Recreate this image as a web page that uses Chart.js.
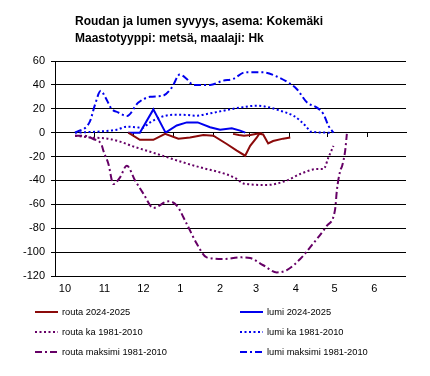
<!DOCTYPE html>
<html>
<head>
<meta charset="utf-8">
<script src="https://cdn.jsdelivr.net/npm/chart.js@4"></script>
<style>
  html, body { margin: 0; padding: 0; background: #fff; }
  #wrap { position: relative; width: 430px; height: 376px; }
  #chart { position: absolute; left: 0; top: 0; }
  .title { position: absolute; left: 75px; font: bold 12px "Liberation Sans", Arial, sans-serif; color: #000; white-space: nowrap; }
</style>
</head>
<body>
<div id="wrap">
  <canvas id="chart" width="430" height="376"></canvas>
  <div class="title" style="top:14px">Roudan ja lumen syvyys, asema: Kokemäki</div>
  <div class="title" style="top:31px">Maastotyyppi: metsä, maalaji: Hk</div>
</div>
<script>
// x = päiviä 1.10. alkaen
const monthLabels = ['10', '11', '12', '1', '2', '3', '4', '5', '6'];
const monthStartDays = [0, 31, 61, 92, 123, 151, 182, 212, 243];
const seasonEnd = 273;

const routaDays = [57, 66, 76.5, 85.6, 96, 105, 115.4, 123.2, 133.6, 141.4, 147.9, 151.8, 157, 158.8, 161.9, 165.8, 169.6, 177.4, 183];
const routaDepth = [0, -6, -6, -1, -5, -4, -2, -2.5, -9.5, -15, -19.3, -11, -4, -1, -1.5, -9, -7, -5, -4];
// sulava pintakerros (ei omaa selitettä)
const routaTopDays = [138.5, 143, 147, 152, 157, 161];
const routaTopDepth = [-1, -2, -2.5, -2, -1, -0.5];

const lumiDays = [56.8, 66, 76.5, 86, 94.7, 102.5, 111, 120.6, 128.4, 137.5, 144, 148];
const lumiDepth = [0, 0, 19.5, 0, 6, 8.6, 8.6, 4.5, 2.5, 3.6, 1.7, 0];

const routaKaDays = [15.6, 27, 41, 50.6, 60.7, 74, 87, 100, 112.8, 133.6, 141, 146.5, 164.7, 180.3, 190.7, 203.7, 208.8, 212.7, 216.6];
const routaKaDepth = [-2.5, -4, -5, -7.5, -11.5, -16, -20.5, -25, -29, -35, -38.5, -42.5, -43.8, -40, -34.6, -30.5, -30.5, -20.7, -11];

const lumiKaDays = [15.6, 35, 48, 55.8, 63.6, 67.5, 74, 81.7, 92, 102.5, 110, 118, 131, 144, 157, 167.3, 175, 185.5, 190.7, 195.9, 198.4, 214];
const lumiKaDepth = [0, 1, 2.5, 5, 4.5, 4, 8.6, 12.8, 15, 14.8, 14.2, 15.6, 18.4, 21, 22.6, 21, 18.4, 14.2, 10, 4.5, 1, 0];

const routaMaxDays = [15.6, 22, 29.8, 36.3, 37.6, 39, 41.5, 45.4, 50.6, 55.8, 62.3, 68.7, 76.5, 88.2, 94.7, 102.5, 110.3, 118, 131, 144, 151.8, 162, 172.5, 180.3, 190.7, 198.4, 211.4, 217.9, 219.2, 221.8, 223.3, 225.7, 227];
const routaMaxDepth = [-2.5, -2.5, -5.3, -10.3, -15, -19, -26, -43, -37.4, -27.6, -40, -51, -63, -57.5, -61, -76.5, -93, -104.4, -105.8, -104.4, -105, -111, -117, -115, -105.8, -96, -78, -64, -48.6, -32, -28, -15, -1];

const lumiMaxDays = [15.6, 27, 31, 35.6, 39, 44, 49, 56, 64.6, 74, 84, 91, 97, 102.5, 107.4, 120.6, 130.7, 138.5, 147.9, 161.9, 172.5, 180.3, 188, 195.9, 203.7, 208.8, 212.7, 216.6];
const lumiMaxDepth = [0, 9, 23, 35, 30, 20, 17, 14, 25, 30, 31, 38, 48.6, 45, 40, 40, 43.5, 45, 50.5, 50.5, 47, 42.7, 36.6, 25.4, 21, 15.6, 5.8, 0];

const toPoints = (xs, ys) => xs.map((x, i) => ({ x: x, y: ys[i] }));

const RED = '#8b0a0a';
const BLUE = '#0000ee';
const PURPLE = '#660066';
const DOT = [2, 2.5];
const DASHDOT = [7, 3, 2, 3];

const FONT = '"Liberation Sans", Arial, sans-serif';

// selite kahteen sarakkeeseen kaavion alle
const legendPlugin = {
    id: 'twoColLegend',
    afterDraw(chart) {
        const ctx = chart.ctx;
        const items = chart.data.datasets.filter(d => !d.noLegend);
        ctx.save();
        ctx.font = '9.3px ' + FONT;
        ctx.textBaseline = 'middle';
        ctx.fillStyle = '#000';
        items.forEach((ds, i) => {
            const x = i % 2 === 0 ? 35 : 240;
            const y = 312 + Math.floor(i / 2) * 20;
            ctx.strokeStyle = ds.borderColor;
            ctx.lineWidth = ds.borderWidth;
            ctx.setLineDash(ds.borderDash || []);
            ctx.beginPath();
            ctx.moveTo(x, y);
            ctx.lineTo(x + 23, y);
            ctx.stroke();
            ctx.setLineDash([]);
            ctx.fillText(ds.label, x + 27, y);
        });
        ctx.restore();
    }
};

new Chart(document.getElementById('chart'), {
    type: 'line',
    data: {
        datasets: [
            { label: 'routa 2024-2025', data: toPoints(routaDays, routaDepth), borderColor: RED, borderWidth: 2, tension: 0 },
            { label: 'lumi 2024-2025', data: toPoints(lumiDays, lumiDepth), borderColor: BLUE, borderWidth: 2, tension: 0 },
            { label: 'routa ka 1981-2010', data: toPoints(routaKaDays, routaKaDepth), borderColor: PURPLE, borderWidth: 2, borderDash: DOT, cubicInterpolationMode: 'monotone' },
            { label: 'lumi ka 1981-2010', data: toPoints(lumiKaDays, lumiKaDepth), borderColor: BLUE, borderWidth: 2, borderDash: DOT, cubicInterpolationMode: 'monotone' },
            { label: 'routa maksimi 1981-2010', data: toPoints(routaMaxDays, routaMaxDepth), borderColor: PURPLE, borderWidth: 2, borderDash: DASHDOT, cubicInterpolationMode: 'monotone' },
            { label: 'lumi maksimi 1981-2010', data: toPoints(lumiMaxDays, lumiMaxDepth), borderColor: BLUE, borderWidth: 2, borderDash: DASHDOT, cubicInterpolationMode: 'monotone' },
            { label: 'routa yläraja', noLegend: true, data: toPoints(routaTopDays, routaTopDepth), borderColor: RED, borderWidth: 2, tension: 0 }
        ]
    },
    options: {
        responsive: false,
        animation: false,
        events: [],
        elements: { point: { radius: 0 } },
        layout: { padding: { top: 61, right: 24, bottom: 76, left: 0 } },
        plugins: {
            legend: { display: false },
            tooltip: { enabled: false }
        },
        scales: {
            x: {
                type: 'linear',
                min: 0,
                max: seasonEnd,
                grid: { display: false, drawTicks: false },
                border: { display: false },
                afterBuildTicks: (scale) => {
                    scale.ticks = monthStartDays.map(d => ({ value: d + 3 }));
                },
                afterFit: (scale) => { scale.height = 24; },
                ticks: {
                    autoSkip: false,
                    maxRotation: 0,
                    align: 'start',
                    padding: 6,
                    color: '#000',
                    font: { family: FONT, size: 11 },
                    callback: (value, index) => monthLabels[index]
                }
            },
            // kuukausien väliviivat nollatasolla
            x0: {
                type: 'linear',
                min: 0,
                max: seasonEnd,
                position: { y: 0 },
                grid: { drawOnChartArea: false, drawTicks: true, tickLength: 4, color: '#000' },
                border: { display: true, color: '#000', width: 1 },
                afterBuildTicks: (scale) => {
                    scale.ticks = monthStartDays.slice(1).map(d => ({ value: d }));
                },
                ticks: { display: false }
            },
            y: {
                min: -120,
                max: 60,
                afterFit: (scale) => { scale.width = 55; },
                grid: { color: '#000', lineWidth: 1, tickLength: 4 },
                border: { color: '#000', width: 1 },
                ticks: {
                    stepSize: 20,
                    padding: 6,
                    color: '#000',
                    font: { family: FONT, size: 11 }
                }
            }
        }
    },
    plugins: [legendPlugin]
});
</script>
</body>
</html>
